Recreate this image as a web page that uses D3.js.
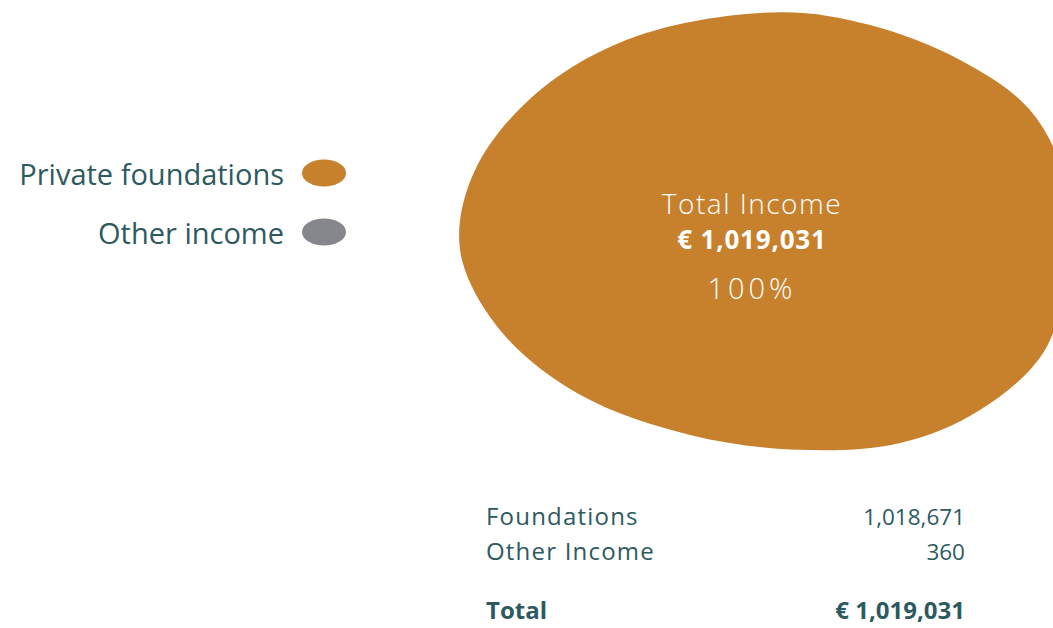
<!DOCTYPE html>
<html>
<head>
<meta charset="utf-8">
<script src="https://cdn.jsdelivr.net/npm/d3@7"></script>
<style>
  body { margin: 0; background: #fff; }
  svg { display: block; font-family: "Open Sans", Lato, sans-serif; }
</style>
</head>
<body>
<svg id="chart" width="1053" height="628"></svg>
<script>
// data
var categories = ["Foundations", "Other Income"]
var legendLabels = ["Private foundations", "Other income"]
var values = [1018671, 360]
var colors = ["#c7802c", "#85878c"]
var total = d3.sum(values)

// blob outline, unit factors (x of rx, y of ry)
var blobShape = [
  [0.067, -0.995], [0.367, -0.936], [0.667, -0.777], [0.9, -0.55],
  [1.017, -0.232], [1.027, 0.132], [0.95, 0.541], [0.733, 0.814],
  [0.467, 0.964], [0.133, 0.995], [-0.233, 0.927], [-0.6, 0.745],
  [-0.867, 0.45], [-1.0, 0.086], [-0.95, -0.277], [-0.733, -0.641],
  [-0.4, -0.891]
]

var textColor = "#2d5a5f"
var svg = d3.select("#chart")
var fmt = d3.format(",")

var rScale = d3.scaleSqrt().domain([0, total]).range([0, 300])
var cx = 760, cy = 231

var line = d3.line()
  .x(function(d) { return d[0] })
  .y(function(d) { return d[1] })
  .curve(d3.curveCatmullRomClosed)

// blobs for shares big enough to show (other income is too small to see)
values.forEach(function(v, i) {
  if (v / total < 0.01) return
  var rx = rScale(v), ry = rx * 220 / 300
  svg.append("path")
    .attr("d", line(blobShape.map(function(p) { return [cx + p[0] * rx, cy + p[1] * ry] })))
    .attr("fill", colors[i])
})

// centre labels
var lx = 752
var center = svg.append("g").attr("fill", "#fff").attr("text-anchor", "middle")
center.append("text").attr("x", lx).attr("y", 214)
  .attr("font-size", 28).attr("font-weight", 300).attr("letter-spacing", 1.5)
  .text("Total Income")
center.append("text").attr("x", lx).attr("y", 249)
  .attr("font-size", 26).attr("font-weight", 700).attr("letter-spacing", 0.8)
  .text("€ " + fmt(total))
center.append("text").attr("x", lx).attr("y", 299)
  .attr("font-size", 29).attr("font-weight", 300).attr("letter-spacing", 4)
  .text(d3.format(".0%")(values[0] / total))

// legend
var legend = svg.selectAll(".legend")
  .data(legendLabels)
  .enter().append("g")
  .attr("class", "legend")
  .attr("transform", function(d, i) { return "translate(0," + (173 + i * 59) + ")" })
legend.append("text")
  .attr("x", 284).attr("y", 12)
  .attr("text-anchor", "end")
  .attr("font-size", 29)
  .attr("fill", textColor)
  .text(function(d) { return d })
legend.append("ellipse")
  .attr("cx", 324).attr("cy", 0)
  .attr("rx", 22).attr("ry", 13.5)
  .attr("fill", function(d, i) { return colors[i] })

// table
var rows = svg.selectAll(".row")
  .data(categories)
  .enter().append("g")
  .attr("class", "row")
  .attr("fill", textColor)
rows.append("text")
  .attr("x", 486).attr("y", function(d, i) { return 525 + i * 35 })
  .attr("font-size", 24).attr("letter-spacing", 1.2)
  .text(function(d) { return d })
rows.append("text")
  .attr("x", 965).attr("y", function(d, i) { return 525 + i * 35 })
  .attr("text-anchor", "end")
  .attr("font-size", 22.5)
  .text(function(d, i) { return fmt(values[i]) })

var totalRow = svg.append("g").attr("fill", textColor).attr("font-size", 24).attr("font-weight", 700)
totalRow.append("text").attr("x", 486).attr("y", 619).text("Total")
totalRow.append("text").attr("x", 965).attr("y", 619).attr("text-anchor", "end").text("€ " + fmt(total))
</script>
</body>
</html>
